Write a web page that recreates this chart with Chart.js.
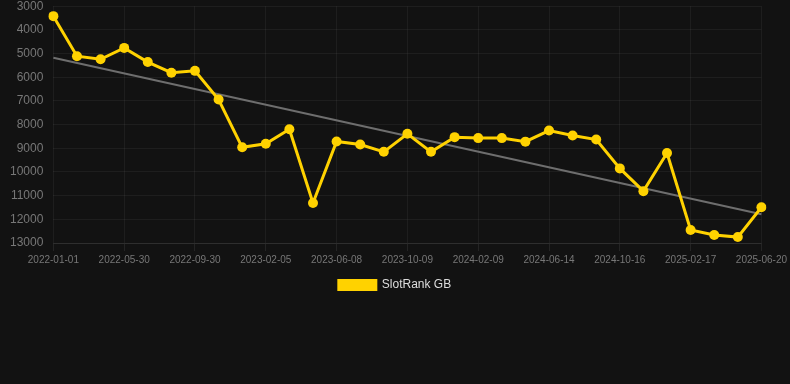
<!DOCTYPE html>
<html>
<head>
<meta charset="utf-8">
<script src="https://cdn.jsdelivr.net/npm/chart.js@4"></script>
<style>
    html, body { margin: 0; padding: 0; background: #121212; overflow: hidden; }
    #wrap { width: 790px; height: 312px; position: relative; margin-top: -11px; }
</style>
</head>
<body>
<div id="wrap"><canvas id="chart"></canvas></div>
<script>
const dates = [
    "2022-01-01", "2022-02-18", "2022-04-08", "2022-05-30", "2022-07-11", "2022-08-20",
    "2022-09-30", "2022-11-13", "2022-12-25", "2023-02-05", "2023-03-18", "2023-04-28",
    "2023-06-08", "2023-07-19", "2023-08-29", "2023-10-09", "2023-11-19", "2023-12-30",
    "2024-02-09", "2024-03-21", "2024-05-03", "2024-06-14", "2024-07-25", "2024-09-04",
    "2024-10-16", "2024-11-26", "2025-01-06", "2025-02-17", "2025-03-30", "2025-05-10",
    "2025-06-20",
];
const rankGB = [
    3420, 5110, 5240, 4760, 5360, 5810, 5730, 6940, 8960, 8810, 8200,
    11310, 8710, 8840, 9150, 8390, 9150, 8530, 8570, 8570, 8720, 8250,
    8460, 8630, 9850, 10810, 9200, 12450, 12660, 12750, 11490,
];
const trendEnds = { start: 5180, end: 11790 };
const trend = dates.map((d, i) => (i === 0 ? trendEnds.start : i === dates.length - 1 ? trendEnds.end : null));

Chart.defaults.font.family = "'Liberation Sans', Arial, sans-serif";

new Chart(document.getElementById("chart"), {
    type: "line",
    data: {
        labels: dates,
        datasets: [
            {
                label: "SlotRank GB",
                data: rankGB,
                borderColor: "#ffd200",
                backgroundColor: "#ffd200",
                borderWidth: 3,
                pointRadius: 5,
                pointHoverRadius: 5,
                pointBackgroundColor: "#ffd200",
                pointBorderWidth: 0,
                tension: 0,
            },
            {
                label: "trend",
                data: trend,
                spanGaps: true,
                borderColor: "#6e6e6e",
                borderWidth: 2,
                pointRadius: 0,
                tension: 0,
            },
        ],
    },
    options: {
        responsive: true,
        maintainAspectRatio: false,
        animation: false,
        scales: {
            x: {
                grid: { color: "rgba(255,255,255,0.05)", tickColor: "rgba(255,255,255,0.08)" },
                border: { color: "rgba(255,255,255,0.08)" },
                ticks: {
                    color: "#777777",
                    font: { size: 10 },
                    maxRotation: 0,
                    autoSkip: false,
                    callback: function (value, index) {
                        return index % 3 === 0 ? this.getLabelForValue(value) : null;
                    },
                },
            },
            y: {
                reverse: true,
                min: 3000,
                max: 13000,
                grid: { color: "rgba(255,255,255,0.05)", drawTicks: false },
                border: { display: false },
                ticks: {
                    stepSize: 1000,
                    color: "#777777",
                    font: { size: 12 },
                    padding: 10,
                    callback: (v) => String(v),
                },
            },
        },
        plugins: {
            legend: {
                position: "bottom",
                labels: {
                    color: "#dddddd",
                    boxWidth: 37,
                    boxHeight: 9,
                    font: { size: 12 },
                    filter: (item) => item.text !== "trend",
                },
            },
            tooltip: { enabled: false },
        },
    },
});
</script>
</body>
</html>
